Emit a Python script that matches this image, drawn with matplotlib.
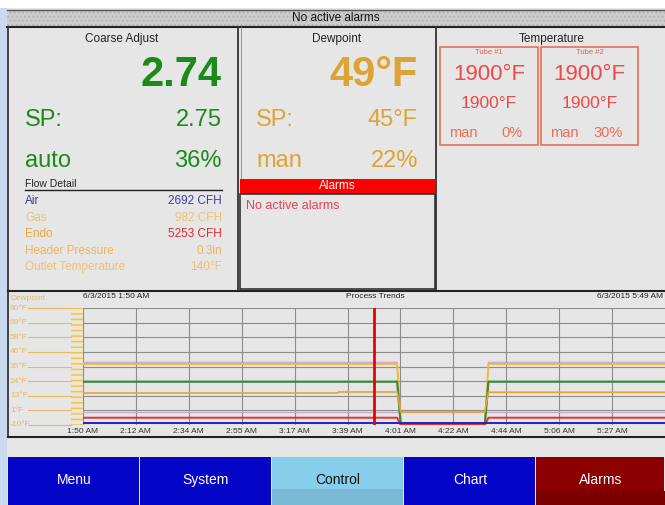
import matplotlib
matplotlib.use("Agg")
import matplotlib.pyplot as plt
from matplotlib.patches import Rectangle
from matplotlib import transforms

plt.rcParams['font.family'] = ['Liberation Sans', 'DejaVu Sans']

# ---- panel readings ----
coarse_pv, coarse_sp, coarse_mode, coarse_out = "2.74", "2.75", "auto", "36%"
dew_pv, dew_sp, dew_mode, dew_out = "49°F", "45°F", "man", "22%"
flow_names = ["Air", "Gas", "Endo", "Header Pressure", "Outlet Temperature"]
flow_values = ["2692 CFH", "982 CFH", "5253 CFH", "0.3in", "140°F"]
flow_name_colors = ["#3a3aa8", "#e8c27a", "#e8a848", "#f0b455", "#f0c070"]
flow_value_colors = ["#3a3ab0", "#e8c27a", "#e02a30", "#f0b455", "#f0c070"]
tubes = ["Tube #1", "Tube #2"]
tube_pv = ["1900°F", "1900°F"]
tube_sp = ["1900°F", "1900°F"]
tube_mode = ["man", "man"]
tube_out = ["0%", "30%"]
buttons = ["Menu", "System", "Control", "Chart", "Alarms"]

# ---- trend data (minutes after 1:50 AM) ----
t_steps = [0, 129, 130.5, 165, 166.5, 239]
yellow = [37, 37, -10, -10, 37, 37]
purple = [38.3, 38.3, -10, -10, 38.3, 38.3]
green = [23.3, 23.3, -10, -10, 23.3, 23.3]
t_orange = [0, 104.5, 105, 129, 130.5, 165, 166.5, 239]
orange = [14.6, 14.6, 15.4, 15.4, 0, 0, 15.2, 15.2]
pale = [0, 0, 0, 0, 0, 0]
red = [-4.4, -4.4, -10, -10, -4.4, -4.4]
blue = [-8.7, -8.7, -8.7, -8.7, -8.7, -8.7]
cursor_t = 119.5
x_tick_labels = ["1:50 AM", "2:12 AM", "2:34 AM", "2:55 AM", "3:17 AM", "3:39 AM",
                 "4:01 AM", "4:22 AM", "4:44 AM", "5:06 AM", "5:27 AM"]
y_tick_vals = [-10, 1.25, 12.5, 23.75, 35, 46.25, 57.5, 68.75, 80]
y_tick_labels = ["-10°F", "1°F", "13°F", "24°F", "35°F", "46°F", "58°F", "69°F", "80°F"]

BG = "#e6e6e6"
GREEN = "#1b8a1b"
GOLD = "#dca335"
TRED = "#f04848"
TORANGE = "#e8704f"

fig = plt.figure(figsize=(6.65, 5.05), dpi=100)
fig.patch.set_facecolor("white")
ax0 = fig.add_axes([0, 0, 1, 1])
ax0.set_xlim(0, 665)
ax0.set_ylim(505, 0)
ax0.axis("off")


def rect(x0, y0, x1, y1, fc="none", ec="none", lw=1.0, **kw):
    ax0.add_patch(Rectangle((x0, y0), x1 - x0, y1 - y0, facecolor=fc,
                            edgecolor=ec, linewidth=lw, **kw))


def txt(x, y, s, size, color="#222222", ha="left", weight="normal", **kw):
    ax0.text(x, y, s, fontsize=size, color=color, ha=ha, va="center",
             fontweight=weight, **kw)


# backgrounds
rect(0, 8, 7, 505, fc="#c9d9ef")
rect(7, 8, 665, 505, fc=BG)

# header bar
rect(7, 10, 665, 26, fc="#cdcdcd", ec="#b4b4b4", lw=0, hatch="....")
ax0.plot([7, 665], [10, 10], color="#555555", lw=1)
ax0.plot([7, 665], [26.5, 26.5], color="#222222", lw=1.5)
txt(336, 18, "No active alarms", 8.5, color="#111111", ha="center")

# panel borders
for x in [8, 238, 436]:
    ax0.plot([x, x], [27, 290], color="#333333", lw=1.3)
ax0.plot([241, 241], [27, 178], color="#888888", lw=0.6)
ax0.plot([8, 665], [290.5, 290.5], color="#222222", lw=1.5)

# Coarse Adjust
txt(122, 39, "Coarse Adjust", 8.5, ha="center")
txt(222, 75, coarse_pv, 30, color=GREEN, ha="right", weight="bold")
txt(25, 120, "SP:", 17, color=GREEN)
txt(222, 120, coarse_sp, 17, color=GREEN, ha="right")
txt(25, 161, coarse_mode, 17, color=GREEN)
txt(222, 161, coarse_out, 17, color=GREEN, ha="right")
txt(25, 184, "Flow Detail", 7.5, color="#222222")
ax0.plot([25, 222], [190, 190], color="#222222", lw=1)
for i, (n, v) in enumerate(zip(flow_names, flow_values)):
    yy = 201 + i * 16.6
    txt(25, yy, n, 8.5, color=flow_name_colors[i])
    txt(222, yy, v, 8.5, color=flow_value_colors[i], ha="right")

# Dewpoint
txt(337, 39, "Dewpoint", 8.5, ha="center")
txt(418, 75, dew_pv, 30, color=GOLD, ha="right", weight="bold")
txt(256, 120, "SP:", 17, color=GOLD)
txt(418, 120, dew_sp, 17, color=GOLD, ha="right")
txt(256, 161, dew_mode, 17, color=GOLD)
txt(418, 161, dew_out, 17, color=GOLD, ha="right")
rect(240, 178.5, 435, 194, fc="#ff0000")
txt(337, 186, "Alarms", 8.5, color="white", ha="center")
rect(240, 194, 435, 289, ec="#333333", lw=1.2)
txt(246, 206, "No active alarms", 9, color="#e84050")

# Temperature
txt(552, 39, "Temperature", 8.5, ha="center")
for i, (x0, x1) in enumerate([(440, 538), (541, 638)]):
    rect(x0, 47, x1, 145, ec=TORANGE, lw=1.2)
    cx = (x0 + x1) / 2
    txt(cx, 53, tubes[i], 5.5, color="#e06048", ha="center")
    txt(cx, 75, tube_pv[i], 16, color=TRED, ha="center")
    txt(cx, 104, tube_sp[i], 12.5, color=TRED, ha="center")
    txt(x0 + 9, 133, tube_mode[i], 10.5, color=TORANGE)
    txt(x1 - 15, 133, tube_out[i], 10.5, color=TORANGE, ha="right")

# trend panel frame
ax0.plot([8, 8], [292, 437], color="#333333", lw=1.3)
ax0.plot([8, 665], [437, 437], color="#222222", lw=1.5)
txt(10, 298, "Dewpoint", 6, color="#e8b860")
txt(83, 297, "6/3/2015 1:50 AM", 6, color="#222222")
txt(375, 297, "Process Trends", 6, color="#222222", ha="center")
txt(663, 297, "6/3/2015 5:49 AM", 6, color="#222222", ha="right")
rect(71, 308, 83, 425, fc="#ece6d2", ec="#f0c050", lw=0, hatch="---")

# buttons
btn_x = [8, 140, 272, 404, 536, 665]
btn_fc = ["#0505c8", "#0505c8", "#87ceeb", "#0505c8", "#8b0000"]
for i, b in enumerate(buttons):
    rect(btn_x[i], 457, btn_x[i + 1] - 1, 505, fc=btn_fc[i])
    if b == "Control":
        rect(btn_x[i], 489, btn_x[i + 1] - 1, 505, fc="#7bbad6")
    if b == "Alarms":
        rect(btn_x[i], 491, btn_x[i + 1], 505, fc="#7a0000")
    cx = (btn_x[i] + btn_x[i + 1]) / 2
    txt(cx, 480, b, 10, color="#111111" if b == "Control" else "white", ha="center")

# ---- trend chart ----
ax = fig.add_axes([83 / 665, 80 / 505, 582 / 665, 117 / 505])
ax.set_facecolor("none")
ax.set_xlim(0, 239)
ax.set_ylim(-10, 80)
x_tick_pos = [i * 239 / 11 for i in range(len(x_tick_labels))]
ax.set_xticks(x_tick_pos, x_tick_labels)
ax.set_yticks(y_tick_vals, [""] * len(y_tick_vals))
ax.tick_params(axis="both", length=0, labelsize=6, labelcolor="#333333", pad=2)
ax.grid(True, color="#8c8c8c", lw=0.8)
for s in ax.spines.values():
    s.set_visible(False)

ax.plot(t_steps, pale, color="#c8a8c8", lw=0.9)
ax.plot(t_steps, purple, color="#c498cc", lw=0.7)
ax.plot(t_steps, yellow, color="#f4b836", lw=1.4)
ax.plot(t_steps, green, color="#3d8a3d", lw=1.6)
ax.plot(t_orange, orange, color="#f0a030", lw=1.2)
ax.plot(t_steps, red, color="#e83030", lw=1.4)
ax.plot(t_steps, blue, color="#2222c0", lw=1.4)
ax.axvline(cursor_t, color="#ee0000", lw=2)

# y labels with leader lines out to the hatched strip
bt = transforms.blended_transform_factory(ax0.transData, ax.transData)
for v, lab in zip(y_tick_vals, y_tick_labels):
    ax.text(10, v, lab, transform=bt, fontsize=6, color="#e8b860",
            ha="left", va="center", clip_on=False)
    ax.plot([28, 71], [v, v], transform=bt, color="#e8b860", lw=0.8, clip_on=False)

fig.savefig("out.png", dpi=100)
